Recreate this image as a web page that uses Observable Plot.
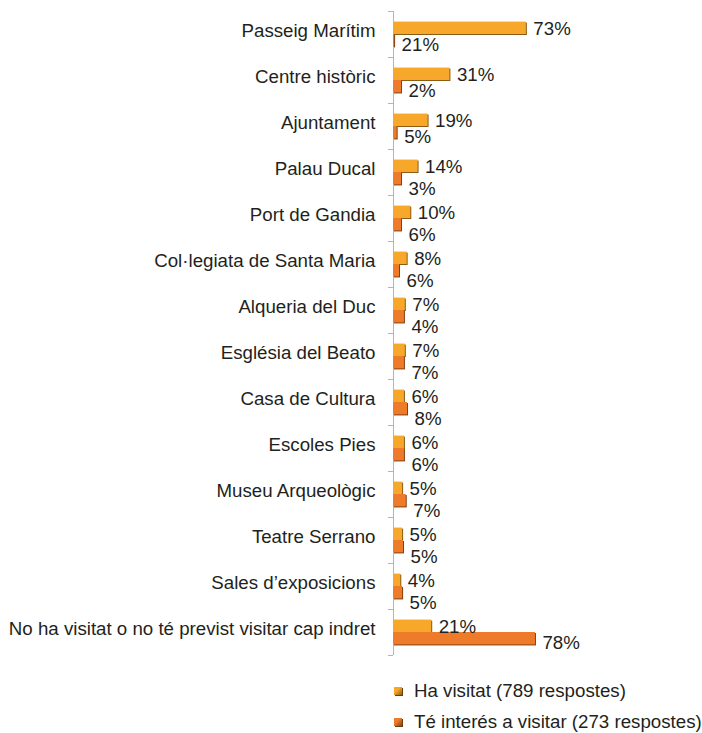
<!DOCTYPE html>
<html>
<head>
<meta charset="utf-8">
<script src="https://cdn.jsdelivr.net/npm/d3@7"></script>
<script src="https://cdn.jsdelivr.net/npm/@observablehq/plot@0.6"></script>
<style>
  body { margin: 0; background: #fff; font-family: "Liberation Sans", Arial, sans-serif; color: #231f20; }
  #chart svg { display: block; }
  .legend { margin-left: 394px; margin-top: 15px; font-size: 18.7px; color: #231f20; white-space: nowrap; }
  .legend .item { display: flex; align-items: center; height: 31px; white-space: nowrap; }
  .legend .sw { flex: none; width: 8px; height: 8px; margin-right: 12px; box-shadow: 1px 1px 0 #6b3d10; }
</style>
</head>
<body>
<div id="chart"></div>
<div class="legend" id="legend"></div>
<script>
const categories = [
  "Passeig Marítim",
  "Centre històric",
  "Ajuntament",
  "Palau Ducal",
  "Port de Gandia",
  "Col·legiata de Santa Maria",
  "Alqueria del Duc",
  "Església del Beato",
  "Casa de Cultura",
  "Escoles Pies",
  "Museu Arqueològic",
  "Teatre Serrano",
  "Sales d’exposicions",
  "No ha visitat o no té previst visitar cap indret"
];
// bar lengths as drawn (%)
const visitedBars  = [73, 31, 19, 13.5, 9.5, 7.5, 6.5, 6.5, 6, 6, 5, 5, 4, 21];
const interestBars = [0.6, 4.4, 2, 4.4, 4.4, 3.3, 6, 6, 7.7, 6, 7, 5.5, 5, 78];
// value labels as printed
const visitedLabels  = ["73%","31%","19%","14%","10%","8%","7%","7%","6%","6%","5%","5%","4%","21%"];
const interestLabels = ["21%","2%","5%","3%","6%","6%","4%","7%","8%","6%","7%","5%","5%","78%"];
const seriesNames = ["Ha visitat (789 respostes)", "Té interés a visitar (273 respostes)"];
const seriesColors = ["#F7A72A", "#EE7B2A"];
const seriesShadow = ["#8c5c16", "#86400f"];

const bandStart = [0.23, 0.5];
const bandEnd = [0.5, 0.77];

const rows = [];
categories.forEach((c, i) => {
  [visitedBars, interestBars].forEach((arr, s) => {
    rows.push({
      cat: c, i, s,
      value: arr[i],
      label: (s === 0 ? visitedLabels : interestLabels)[i],
      y1: i + bandStart[s],
      y2: i + bandEnd[s],
      // labels of the two bars would collide when bar ends are close
      crowded: Math.abs(visitedBars[i] - interestBars[i]) < 12
    });
  });
});

const FS = 18.7;
const chart = Plot.plot({
  width: 702,
  height: 660,
  marginLeft: 393,
  marginRight: 127,
  marginTop: 11,
  marginBottom: 5,
  style: { fontFamily: "Liberation Sans, Arial, sans-serif", fontSize: FS + "px", color: "#231f20", background: "#fff" },
  x: { domain: [0, 100], axis: null },
  y: { domain: [0, categories.length], reverse: true, axis: null },
  marks: [
    Plot.axisY({ ticks: d3.range(0, categories.length + 1), tickSize: 5, tickFormat: () => "", stroke: "#b5b5b5" }),
    Plot.axisY({
      ticks: d3.range(categories.length).map(i => i + 0.5),
      tickSize: 0, tickPadding: 18, dy: -3,
      tickFormat: d => categories[Math.floor(d)],
      fontSize: FS, fill: "#231f20"
    }),
    Plot.ruleX([0], { stroke: "#b5b5b5" }),
    Plot.rectX(rows, { x1: 0, x2: "value", y1: "y1", y2: "y2", fill: d => seriesShadow[d.s], dx: 1, dy: 1 }),
    Plot.rectX(rows, { x1: 0, x2: "value", y1: "y1", y2: "y2", fill: d => seriesColors[d.s] }),
    Plot.text(rows.filter(d => d.s === 0), {
      x: "value", y: d => (d.y1 + d.y2) / 2,
      text: "label", textAnchor: "start", dx: 7, dy: 1, fontSize: FS, fill: "#231f20"
    }),
    Plot.text(rows.filter(d => d.s === 1 && !d.crowded), {
      x: "value", y: d => (d.y1 + d.y2) / 2,
      text: "label", textAnchor: "start", dx: 7, dy: 4, fontSize: FS, fill: "#231f20"
    }),
    Plot.text(rows.filter(d => d.s === 1 && d.crowded), {
      x: "value", y: d => (d.y1 + d.y2) / 2,
      text: "label", textAnchor: "start", dx: 7, dy: 10, fontSize: FS, fill: "#231f20"
    })
  ]
});
document.getElementById("chart").appendChild(chart);

const legend = document.getElementById("legend");
seriesNames.forEach((name, s) => {
  const item = document.createElement("div");
  item.className = "item";
  const sw = document.createElement("span");
  sw.className = "sw";
  sw.style.background = `linear-gradient(135deg, ${seriesColors[s]} 40%, ${seriesShadow[s]})`;
  const t = document.createElement("span");
  t.textContent = name;
  item.appendChild(sw);
  item.appendChild(t);
  legend.appendChild(item);
});
</script>
</body>
</html>
